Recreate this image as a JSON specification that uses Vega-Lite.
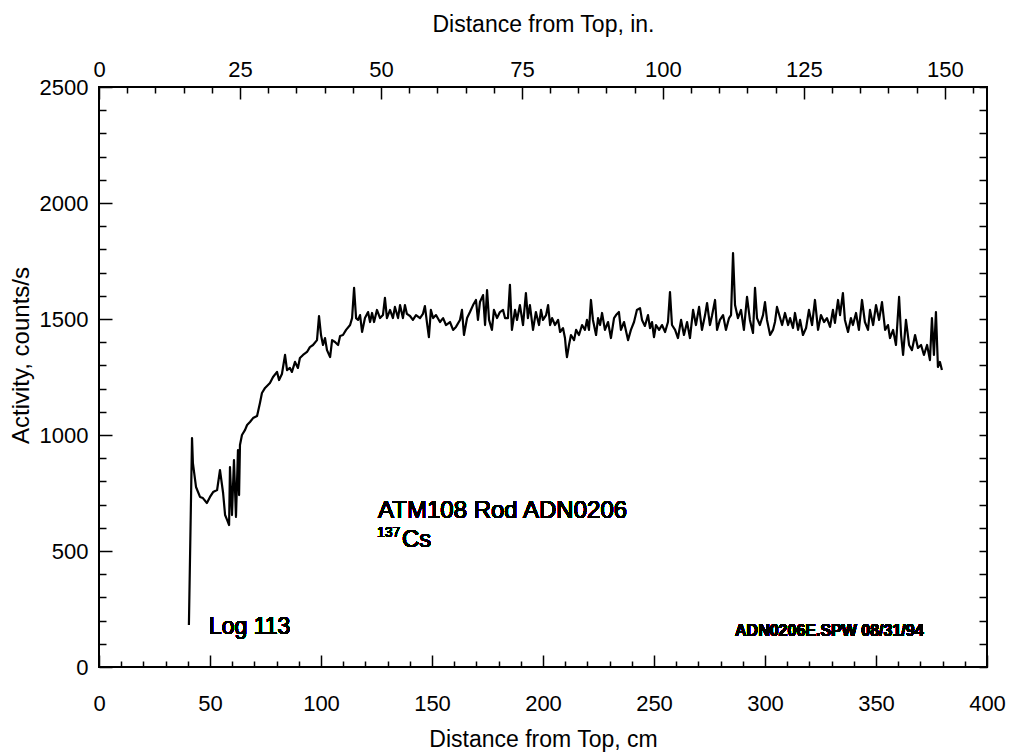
{
  "$schema": "https://vega.github.io/schema/vega-lite/v6.json",
  "width": 888,
  "height": 580,
  "autosize": "none",
  "padding": {"left": 99, "top": 87, "right": 25, "bottom": 85},
  "background": "white",
  "config": {
    "view": {"stroke": "black", "strokeWidth": 2},
    "font": "Liberation Sans",
    "axis": {
      "domain": false,
      "grid": false,
      "tickColor": "black",
      "tickWidth": 1.5,
      "labelColor": "black",
      "titleColor": "black",
      "labelFont": "Liberation Sans",
      "titleFont": "Liberation Sans",
      "labelFontSize": 22,
      "titleFontSize": 23,
      "titleFontWeight": "normal",
      "labelOverlap": false,
      "labelFlush": false
    }
  },
  "datasets": {
    "scan": [
      {"cm": 40.5, "cps": 181}, {"cm": 41.9, "cps": 987}, {"cm": 42.3, "cps": 879}, {"cm": 43.7, "cps": 776},
      {"cm": 45.5, "cps": 733}, {"cm": 46.8, "cps": 728}, {"cm": 48.6, "cps": 707}, {"cm": 50.0, "cps": 733},
      {"cm": 51.4, "cps": 754}, {"cm": 53.2, "cps": 763}, {"cm": 54.5, "cps": 849}, {"cm": 55.9, "cps": 750},
      {"cm": 56.8, "cps": 655}, {"cm": 57.7, "cps": 634}, {"cm": 58.6, "cps": 612}, {"cm": 59.0, "cps": 862},
      {"cm": 59.9, "cps": 655}, {"cm": 60.8, "cps": 892}, {"cm": 61.7, "cps": 647}, {"cm": 62.6, "cps": 935},
      {"cm": 63.1, "cps": 741}, {"cm": 63.5, "cps": 957}, {"cm": 64.4, "cps": 1000}, {"cm": 65.8, "cps": 1022},
      {"cm": 66.7, "cps": 1043}, {"cm": 68.0, "cps": 1056}, {"cm": 69.4, "cps": 1073}, {"cm": 71.2, "cps": 1082},
      {"cm": 72.5, "cps": 1138}, {"cm": 73.4, "cps": 1181}, {"cm": 74.8, "cps": 1203}, {"cm": 77.0, "cps": 1224},
      {"cm": 78.4, "cps": 1250}, {"cm": 80.2, "cps": 1272}, {"cm": 81.1, "cps": 1237}, {"cm": 82.4, "cps": 1263},
      {"cm": 83.8, "cps": 1345}, {"cm": 84.7, "cps": 1280}, {"cm": 86.0, "cps": 1289}, {"cm": 86.9, "cps": 1272},
      {"cm": 88.3, "cps": 1315}, {"cm": 89.6, "cps": 1289}, {"cm": 90.5, "cps": 1332}, {"cm": 91.9, "cps": 1345},
      {"cm": 93.7, "cps": 1358}, {"cm": 95.0, "cps": 1379}, {"cm": 96.4, "cps": 1388}, {"cm": 98.2, "cps": 1409},
      {"cm": 99.1, "cps": 1513}, {"cm": 100.0, "cps": 1431}, {"cm": 100.9, "cps": 1388}, {"cm": 101.8, "cps": 1418},
      {"cm": 102.7, "cps": 1366}, {"cm": 104.1, "cps": 1336}, {"cm": 105.0, "cps": 1409}, {"cm": 106.3, "cps": 1401},
      {"cm": 107.7, "cps": 1388}, {"cm": 108.6, "cps": 1427}, {"cm": 109.9, "cps": 1431}, {"cm": 111.3, "cps": 1453},
      {"cm": 113.1, "cps": 1474}, {"cm": 114.0, "cps": 1504}, {"cm": 114.9, "cps": 1634}, {"cm": 115.8, "cps": 1504},
      {"cm": 116.7, "cps": 1496}, {"cm": 117.6, "cps": 1517}, {"cm": 118.5, "cps": 1444}, {"cm": 119.8, "cps": 1504},
      {"cm": 121.2, "cps": 1530}, {"cm": 122.1, "cps": 1487}, {"cm": 123.0, "cps": 1526}, {"cm": 123.9, "cps": 1487},
      {"cm": 125.2, "cps": 1539}, {"cm": 126.6, "cps": 1504}, {"cm": 127.9, "cps": 1517}, {"cm": 128.8, "cps": 1591},
      {"cm": 129.7, "cps": 1504}, {"cm": 131.1, "cps": 1539}, {"cm": 132.4, "cps": 1504}, {"cm": 133.3, "cps": 1552},
      {"cm": 134.7, "cps": 1504}, {"cm": 135.6, "cps": 1560}, {"cm": 136.9, "cps": 1504}, {"cm": 137.8, "cps": 1560},
      {"cm": 138.7, "cps": 1522}, {"cm": 140.1, "cps": 1513}, {"cm": 141.4, "cps": 1496}, {"cm": 142.8, "cps": 1517},
      {"cm": 144.6, "cps": 1504}, {"cm": 145.9, "cps": 1522}, {"cm": 146.8, "cps": 1556}, {"cm": 147.7, "cps": 1487},
      {"cm": 148.6, "cps": 1422}, {"cm": 149.5, "cps": 1539}, {"cm": 150.5, "cps": 1504}, {"cm": 151.8, "cps": 1517},
      {"cm": 153.6, "cps": 1487}, {"cm": 155.0, "cps": 1504}, {"cm": 156.3, "cps": 1474}, {"cm": 158.1, "cps": 1487},
      {"cm": 159.5, "cps": 1453}, {"cm": 160.8, "cps": 1466}, {"cm": 162.6, "cps": 1496}, {"cm": 163.5, "cps": 1539},
      {"cm": 164.4, "cps": 1431}, {"cm": 165.8, "cps": 1504}, {"cm": 167.1, "cps": 1530}, {"cm": 168.5, "cps": 1560},
      {"cm": 169.8, "cps": 1582}, {"cm": 170.7, "cps": 1496}, {"cm": 171.6, "cps": 1573}, {"cm": 173.0, "cps": 1603},
      {"cm": 173.9, "cps": 1474}, {"cm": 174.8, "cps": 1625}, {"cm": 175.7, "cps": 1496}, {"cm": 177.0, "cps": 1453},
      {"cm": 177.9, "cps": 1539}, {"cm": 179.3, "cps": 1504}, {"cm": 180.6, "cps": 1530}, {"cm": 182.0, "cps": 1539},
      {"cm": 182.9, "cps": 1504}, {"cm": 184.2, "cps": 1504}, {"cm": 185.1, "cps": 1647}, {"cm": 186.0, "cps": 1453},
      {"cm": 187.4, "cps": 1539}, {"cm": 188.3, "cps": 1496}, {"cm": 189.6, "cps": 1560}, {"cm": 191.0, "cps": 1474},
      {"cm": 192.3, "cps": 1612}, {"cm": 193.2, "cps": 1504}, {"cm": 194.1, "cps": 1560}, {"cm": 195.5, "cps": 1453},
      {"cm": 196.8, "cps": 1530}, {"cm": 198.2, "cps": 1474}, {"cm": 199.1, "cps": 1539}, {"cm": 200.0, "cps": 1496},
      {"cm": 201.4, "cps": 1517}, {"cm": 202.3, "cps": 1560}, {"cm": 203.2, "cps": 1474}, {"cm": 204.1, "cps": 1504},
      {"cm": 205.4, "cps": 1474}, {"cm": 206.8, "cps": 1496}, {"cm": 207.7, "cps": 1444}, {"cm": 209.0, "cps": 1461},
      {"cm": 209.9, "cps": 1418}, {"cm": 210.4, "cps": 1366}, {"cm": 210.8, "cps": 1336}, {"cm": 211.7, "cps": 1388},
      {"cm": 212.6, "cps": 1431}, {"cm": 214.0, "cps": 1409}, {"cm": 214.9, "cps": 1453}, {"cm": 216.2, "cps": 1431},
      {"cm": 217.6, "cps": 1474}, {"cm": 218.9, "cps": 1453}, {"cm": 219.8, "cps": 1496}, {"cm": 220.7, "cps": 1453},
      {"cm": 221.6, "cps": 1582}, {"cm": 222.5, "cps": 1496}, {"cm": 223.9, "cps": 1431}, {"cm": 224.8, "cps": 1504},
      {"cm": 225.7, "cps": 1474}, {"cm": 226.6, "cps": 1526}, {"cm": 227.9, "cps": 1453}, {"cm": 229.3, "cps": 1487},
      {"cm": 230.6, "cps": 1418}, {"cm": 232.0, "cps": 1504}, {"cm": 232.9, "cps": 1517}, {"cm": 234.2, "cps": 1530},
      {"cm": 235.1, "cps": 1453}, {"cm": 236.5, "cps": 1487}, {"cm": 237.8, "cps": 1431}, {"cm": 238.3, "cps": 1409},
      {"cm": 239.6, "cps": 1453}, {"cm": 241.0, "cps": 1487}, {"cm": 242.3, "cps": 1539}, {"cm": 243.7, "cps": 1547},
      {"cm": 244.6, "cps": 1496}, {"cm": 245.9, "cps": 1470}, {"cm": 247.3, "cps": 1517}, {"cm": 248.2, "cps": 1461},
      {"cm": 249.1, "cps": 1487}, {"cm": 250.0, "cps": 1422}, {"cm": 250.9, "cps": 1474}, {"cm": 252.3, "cps": 1453},
      {"cm": 253.6, "cps": 1474}, {"cm": 255.0, "cps": 1444}, {"cm": 256.3, "cps": 1487}, {"cm": 257.2, "cps": 1616},
      {"cm": 258.1, "cps": 1474}, {"cm": 259.5, "cps": 1453}, {"cm": 260.8, "cps": 1418}, {"cm": 262.2, "cps": 1496},
      {"cm": 263.5, "cps": 1431}, {"cm": 264.9, "cps": 1487}, {"cm": 266.2, "cps": 1418}, {"cm": 267.6, "cps": 1539},
      {"cm": 268.9, "cps": 1474}, {"cm": 270.3, "cps": 1552}, {"cm": 271.6, "cps": 1453}, {"cm": 273.0, "cps": 1517},
      {"cm": 273.9, "cps": 1569}, {"cm": 275.2, "cps": 1474}, {"cm": 276.1, "cps": 1513}, {"cm": 277.5, "cps": 1582},
      {"cm": 278.4, "cps": 1453}, {"cm": 279.7, "cps": 1496}, {"cm": 281.1, "cps": 1517}, {"cm": 282.4, "cps": 1453},
      {"cm": 283.8, "cps": 1504}, {"cm": 284.7, "cps": 1517}, {"cm": 285.6, "cps": 1784}, {"cm": 286.5, "cps": 1560},
      {"cm": 287.8, "cps": 1504}, {"cm": 289.2, "cps": 1539}, {"cm": 290.5, "cps": 1453}, {"cm": 291.9, "cps": 1595},
      {"cm": 293.2, "cps": 1496}, {"cm": 294.6, "cps": 1440}, {"cm": 295.5, "cps": 1634}, {"cm": 296.4, "cps": 1504},
      {"cm": 297.7, "cps": 1474}, {"cm": 299.1, "cps": 1517}, {"cm": 300.0, "cps": 1573}, {"cm": 300.9, "cps": 1496},
      {"cm": 302.3, "cps": 1431}, {"cm": 303.6, "cps": 1453}, {"cm": 304.5, "cps": 1487}, {"cm": 305.4, "cps": 1552},
      {"cm": 306.8, "cps": 1504}, {"cm": 307.7, "cps": 1474}, {"cm": 309.0, "cps": 1526}, {"cm": 310.4, "cps": 1474},
      {"cm": 311.3, "cps": 1504}, {"cm": 312.6, "cps": 1461}, {"cm": 313.5, "cps": 1526}, {"cm": 314.9, "cps": 1453},
      {"cm": 315.8, "cps": 1496}, {"cm": 317.1, "cps": 1431}, {"cm": 318.5, "cps": 1461}, {"cm": 319.8, "cps": 1539},
      {"cm": 321.2, "cps": 1474}, {"cm": 322.5, "cps": 1582}, {"cm": 323.9, "cps": 1453}, {"cm": 325.2, "cps": 1517},
      {"cm": 326.6, "cps": 1487}, {"cm": 327.9, "cps": 1504}, {"cm": 329.3, "cps": 1466}, {"cm": 330.6, "cps": 1539},
      {"cm": 331.5, "cps": 1483}, {"cm": 332.9, "cps": 1582}, {"cm": 333.8, "cps": 1517}, {"cm": 335.1, "cps": 1612},
      {"cm": 336.0, "cps": 1496}, {"cm": 337.4, "cps": 1444}, {"cm": 338.7, "cps": 1504}, {"cm": 339.6, "cps": 1474},
      {"cm": 341.0, "cps": 1526}, {"cm": 342.3, "cps": 1453}, {"cm": 343.7, "cps": 1582}, {"cm": 345.0, "cps": 1487},
      {"cm": 346.4, "cps": 1453}, {"cm": 347.3, "cps": 1539}, {"cm": 348.7, "cps": 1474}, {"cm": 350.0, "cps": 1560},
      {"cm": 351.4, "cps": 1496}, {"cm": 352.7, "cps": 1573}, {"cm": 354.1, "cps": 1453}, {"cm": 355.4, "cps": 1474},
      {"cm": 356.3, "cps": 1418}, {"cm": 357.7, "cps": 1453}, {"cm": 359.0, "cps": 1388}, {"cm": 360.4, "cps": 1595},
      {"cm": 361.3, "cps": 1431}, {"cm": 362.2, "cps": 1345}, {"cm": 363.5, "cps": 1496}, {"cm": 364.9, "cps": 1388},
      {"cm": 366.2, "cps": 1366}, {"cm": 367.6, "cps": 1431}, {"cm": 368.9, "cps": 1375}, {"cm": 370.3, "cps": 1388},
      {"cm": 371.6, "cps": 1345}, {"cm": 373.0, "cps": 1388}, {"cm": 374.3, "cps": 1323}, {"cm": 375.2, "cps": 1504},
      {"cm": 376.1, "cps": 1345}, {"cm": 377.0, "cps": 1530}, {"cm": 377.9, "cps": 1293}, {"cm": 378.8, "cps": 1315},
      {"cm": 379.7, "cps": 1280}
    ]
  },
  "data": {"name": "scan"},
  "layer": [
    {
      "mark": {"type": "line", "color": "black", "strokeWidth": 2.2, "strokeJoin": "round"},
      "encoding": {
        "x": {
          "field": "cm", "type": "quantitative",
          "scale": {"domain": [0, 400], "nice": false, "zero": false},
          "axis": {
            "orient": "bottom",
            "title": "Distance from Top, cm",
            "values": [0,10,20,30,40,50,60,70,80,90,100,110,120,130,140,150,160,170,180,190,200,210,220,230,240,250,260,270,280,290,300,310,320,330,340,350,360,370,380,390,400],
            "labelExpr": "datum.value % 50 === 0 ? datum.label : ''",
            "tickSize": {"condition": {"test": "datum.value % 50 === 0", "value": -12}, "value": -6},
            "labelPadding": 38,
            "titlePadding": 8
          }
        },
        "y": {
          "field": "cps", "type": "quantitative",
          "scale": {"domain": [0, 2500], "nice": false, "zero": true},
          "axis": {
            "orient": "left",
            "title": "Activity, counts/s",
            "titleFontSize": 24,
            "values": [0,100,200,300,400,500,600,700,800,900,1000,1100,1200,1300,1400,1500,1600,1700,1800,1900,2000,2100,2200,2300,2400,2500],
            "labelExpr": "datum.value % 500 === 0 ? datum.label : ''",
            "format": "d",
            "tickSize": {"condition": {"test": "datum.value % 500 === 0", "value": -13}, "value": -7},
            "labelPadding": 24,
            "titleX": -66,
            "titleY": 268,
            "titleAnchor": "middle"
          }
        }
      }
    },
    {
      "mark": {"type": "text", "align": "left", "baseline": "middle", "fontSize": 24, "font": "Liberation Sans", "color": "black"},
      "encoding": {
        "text": {"value": "ATM108 Rod ADN0206"},
        "x": {
          "datum": 125.7, "type": "quantitative",
          "axis": {
            "orient": "top",
            "title": "Distance from Top, in.",
            "values": [0,12.7,25.4,38.1,50.8,63.5,76.2,88.9,101.6,114.3,127,139.7,152.4,165.1,177.8,190.5,203.2,215.9,228.6,241.3,254,266.7,279.4,292.1,304.8,317.5,330.2,342.9,355.6,368.3,381,393.7],
            "labelExpr": "round(datum.value / 2.54) % 25 === 0 ? format(round(datum.value / 2.54), 'd') : ''",
            "tickSize": {"condition": {"test": "round(datum.value / 2.54) % 25 === 0", "value": -12}, "value": -6},
            "labelPadding": 18,
            "titlePadding": 16
          }
        },
        "y": {
          "datum": 672, "type": "quantitative",
          "axis": {
            "orient": "right",
            "title": null,
            "values": [0,100,200,300,400,500,600,700,800,900,1000,1100,1200,1300,1400,1500,1600,1700,1800,1900,2000,2100,2200,2300,2400,2500],
            "labels": false,
            "tickSize": -8
          }
        }
      }
    },
    {
      "mark": {"type": "text", "align": "left", "baseline": "middle", "fontSize": 14, "font": "Liberation Sans", "color": "black"},
      "encoding": {
        "text": {"value": "137"},
        "x": {"datum": 125.2, "type": "quantitative", "axis": null},
        "y": {"datum": 578, "type": "quantitative", "axis": null}
      }
    },
    {
      "mark": {"type": "text", "align": "left", "baseline": "middle", "fontSize": 24, "font": "Liberation Sans", "color": "black"},
      "encoding": {
        "text": {"value": "Cs"},
        "x": {"datum": 136.5, "type": "quantitative", "axis": null},
        "y": {"datum": 547, "type": "quantitative", "axis": null}
      }
    },
    {
      "mark": {"type": "text", "align": "left", "baseline": "middle", "fontSize": 23, "font": "Liberation Sans", "color": "black"},
      "encoding": {
        "text": {"value": "Log 113"},
        "x": {"datum": 49.5, "type": "quantitative", "axis": null},
        "y": {"datum": 172, "type": "quantitative", "axis": null}
      }
    },
    {
      "mark": {"type": "text", "align": "left", "baseline": "middle", "fontSize": 16, "fontWeight": "bold", "font": "Liberation Sans", "color": "black"},
      "encoding": {
        "text": {"value": "ADN0206E.SPW  08/31/94"},
        "x": {"datum": 286.5, "type": "quantitative", "axis": null},
        "y": {"datum": 155, "type": "quantitative", "axis": null}
      }
    }
  ],
  "resolve": {"axis": {"x": "independent", "y": "independent"}}
}
